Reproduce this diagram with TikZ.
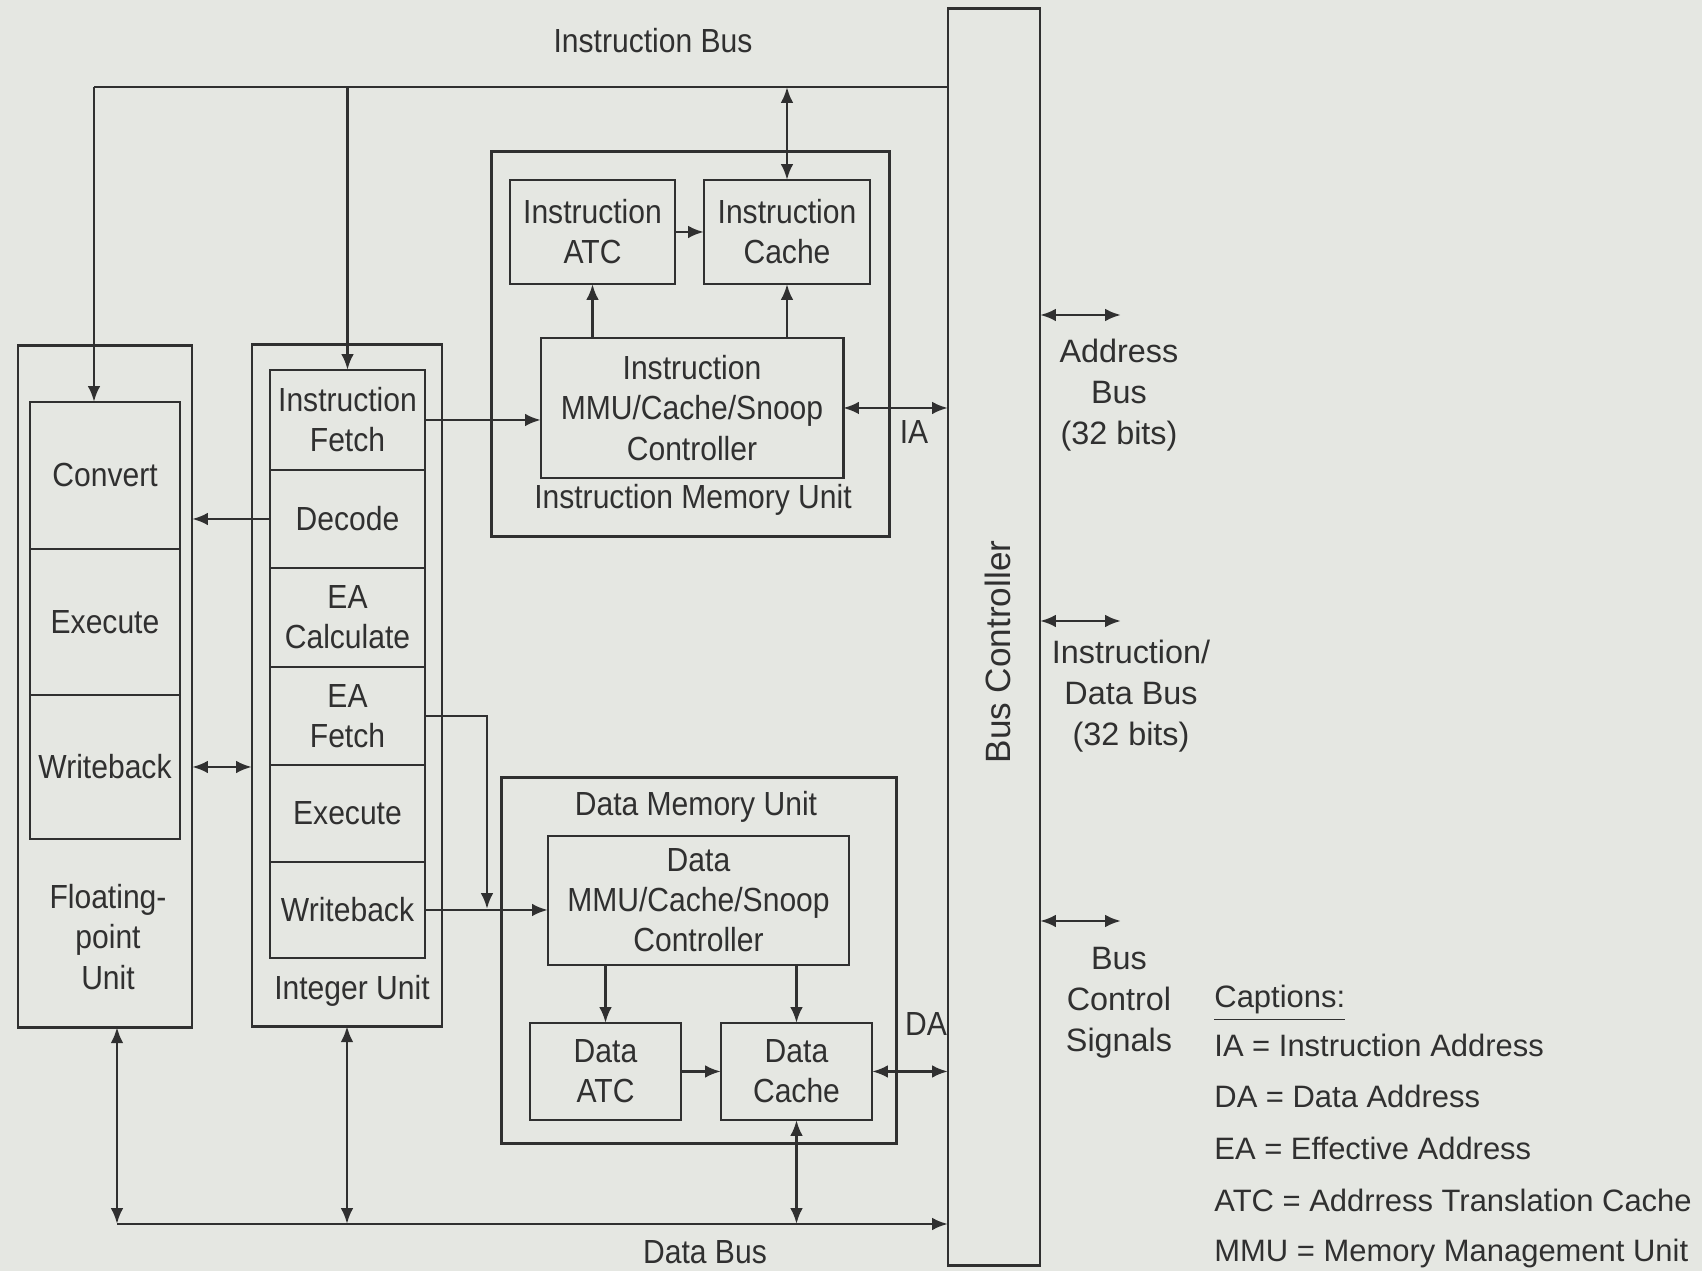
\documentclass[tikz,border=0pt]{standalone}
\usepackage{fontspec}
\setmainfont{Liberation Sans}
\newfontfamily\narrowsf[FakeStretch=0.9]{Liberation Sans}
\usepackage{xcolor}
\usetikzlibrary{arrows.meta}
\definecolor{paper}{RGB}{229,231,226}
\definecolor{ink}{RGB}{48,48,48}

\begin{document}
\begin{tikzpicture}[x=0.01cm,y=-0.01cm,line width=0.8pt,color=ink,
  >={Latex[length=4.5pt,width=3.6pt]},
  box/.style={draw,inner sep=0pt,outer sep=0pt,align=center,
    font=\narrowsf\fontsize{9.5}{11.4}\selectfont},
  lbl/.style={inner sep=0pt,align=center,font=\narrowsf\fontsize{9.5}{11.4}\selectfont},
  rlbl/.style={inner sep=0pt,align=center,font=\fontsize{9.2}{11.6}\selectfont},
  caption/.style={inner sep=0pt,anchor=base west,font=\fontsize{8.8}{11}\selectfont}]
  \useasboundingbox (0,0) rectangle (1702,1271);
  \fill[paper] (0,0) rectangle (1702,1271);

  \node[box,minimum width=0.92cm,minimum height=12.56cm] (bc) at (994,637) {};
  \node[rotate=90,inner sep=0pt,font=\fontsize{10}{12}\selectfont] (bclabel) at (998,652) {Bus Controller};

  \node[box,minimum width=1.74cm,minimum height=6.81cm] (fpu) at (105,686.5) {};
  \node[box,minimum width=1.50cm,minimum height=1.47cm] (fconv) at (105,475.5) {Convert};
  \node[box,minimum width=1.50cm,minimum height=1.46cm] (fexec) at (105,622) {Execute};
  \node[box,minimum width=1.50cm,minimum height=1.44cm] (fwb) at (105,767) {Writeback};
  \node[lbl] (fpulabel) at (108,937) {Floating-\\point\\Unit};

  \node[box,minimum width=1.90cm,minimum height=6.81cm] (iu) at (347,685.5) {};
  \node[box,minimum width=1.55cm,minimum height=1.00cm] (ifetch) at (347.5,420) {Instruction\\Fetch};
  \node[box,minimum width=1.55cm,minimum height=0.98cm] (idec) at (347.5,519) {Decode};
  \node[box,minimum width=1.55cm,minimum height=0.99cm] (ieacalc) at (347.5,617.5) {EA\\Calculate};
  \node[box,minimum width=1.55cm,minimum height=0.98cm] (ieafetch) at (347.5,716) {EA\\Fetch};
  \node[box,minimum width=1.55cm,minimum height=0.97cm] (iexec) at (347.5,813.5) {Execute};
  \node[box,minimum width=1.55cm,minimum height=0.96cm] (iwb) at (347.5,910) {Writeback};
  \node[lbl] (iulabel) at (352,991) {Integer Unit};

  \node[box,minimum width=3.97cm,minimum height=3.84cm] (imu) at (690.5,344) {};
  \node[box,minimum width=1.65cm,minimum height=1.04cm] (iatc) at (592.5,232) {Instruction\\ATC};
  \node[box,minimum width=1.66cm,minimum height=1.04cm] (icache) at (787,232) {Instruction\\Cache};
  \node[box,minimum width=3.02cm,minimum height=1.40cm] (immu) at (692,408) {Instruction\\MMU/Cache/Snoop\\Controller};
  \node[lbl] (imulabel) at (693,500) {Instruction Memory Unit};

  \node[box,minimum width=3.94cm,minimum height=3.65cm] (dmu) at (699,960.5) {};
  \node[lbl] (dmulabel) at (696,807) {Data Memory Unit};
  \node[box,minimum width=3.01cm,minimum height=1.29cm] (dmmu) at (698.5,900.5) {Data\\MMU/Cache/Snoop\\Controller};
  \node[box,minimum width=1.51cm,minimum height=0.97cm] (datc) at (605.5,1071.5) {Data\\ATC};
  \node[box,minimum width=1.51cm,minimum height=0.97cm] (dcache) at (796.5,1071.5) {Data\\Cache};

  \node[lbl] (ibus) at (653,41) {Instruction Bus};
  \node[lbl] (dbus) at (705,1252) {Data Bus};
  \node[lbl] (ia) at (914,432) {IA};
  \node[lbl] (da) at (926,1024) {DA};

  \coordinate (ibl) at (94,87);
  \coordinate (dbl) at (117,1224);
  \coordinate (eadrop) at (487,909);
  \draw (ibl) -- (ibl -| bc.west);
  \draw[->] (ibl) -- (ibl |- fconv.north);
  \draw[->] (ibl -| ifetch.north) -- (ifetch.north);
  \draw[<->] (ibl -| icache.north) -- (icache.north);
  \draw[->] (immu.north -| iatc) -- (iatc.south);
  \draw[->] (immu.north -| icache) -- (icache.south);
  \draw[->] (iatc.east) -- (icache.west);
  \draw[->] (ifetch.east) -- (ifetch.east -| immu.west);
  \draw[<->] (immu.east) -- (immu.east -| bc.west);
  \draw[->] (idec.west) -- (idec.west -| fpu.east);
  \draw[<->] (fpu.east |- fwb) -- (iu.west |- fwb);
  \draw[->] (ieafetch.east) -| (eadrop);
  \draw[->] (iwb.east) -- (iwb.east -| dmmu.west);
  \draw[->] (dmmu.south -| datc) -- (datc.north);
  \draw[->] (dmmu.south -| dcache) -- (dcache.north);
  \draw[->] (datc.east) -- (dcache.west);
  \draw[<->] (dcache.east) -- (dcache.east -| bc.west);
  \draw[<->] (dcache.south) -- (dcache.south |- dbl);
  \draw[->] (dbl) -- (dbl -| bc.west);
  \draw[<->] (fpu.south -| dbl) -- (dbl);
  \draw[<->] (iu.south) -- (iu.south |- dbl);

  \coordinate (abusend) at (1121,315);
  \coordinate (idbusend) at (1121,621);
  \coordinate (ctrlend) at (1121,921);
  \draw[<->] (abusend -| bc.east) -- (abusend);
  \draw[<->] (idbusend -| bc.east) -- (idbusend);
  \draw[<->] (ctrlend -| bc.east) -- (ctrlend);
  \node[rlbl] (abus) at (1119,395) {Address\\Bus\\(32 bits)};
  \node[rlbl] (idbus) at (1131,696) {Instruction/\\Data Bus\\(32 bits)};
  \node[rlbl] (ctrl) at (1119,1003) {Bus\\Control\\Signals};

  \node[caption] (cap0) at (1213,1008) {\underline{Captions:}};
  \node[caption] (cap1) at (1213,1057) {IA = Instruction Address};
  \node[caption] (cap2) at (1213,1108) {DA = Data Address};
  \node[caption] (cap3) at (1213,1160) {EA = Effective Address};
  \node[caption] (cap4) at (1213,1212) {ATC = Addrress Translation Cache};
  \node[caption] (cap5) at (1213,1262) {MMU = Memory Management Unit};
\end{tikzpicture}
\end{document}
